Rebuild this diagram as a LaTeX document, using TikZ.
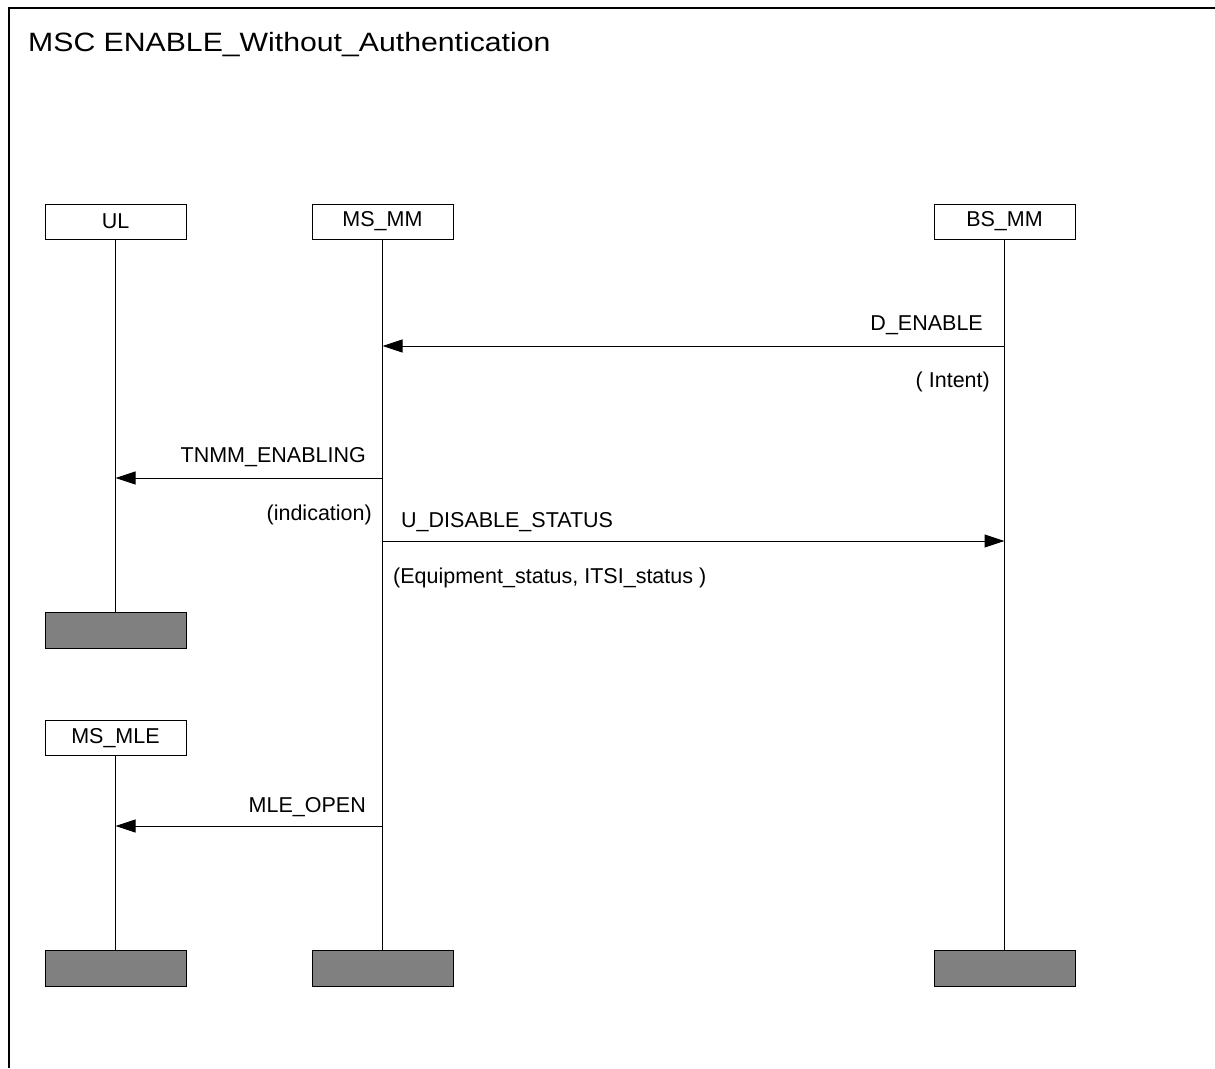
\documentclass[tikz,border=0pt]{standalone}
\usepackage{fontspec}
\setmainfont{Liberation Sans}
\usepackage{graphicx}
\usetikzlibrary{positioning,arrows.meta}

\begin{document}
\begin{tikzpicture}[x=1pt,y=-1pt,
  inst/.style={draw,line width=1pt,minimum width=141pt,minimum height=35pt,inner sep=0pt,font=\fontsize{21.5}{24}\selectfont},
  stopbox/.style={draw,line width=1pt,fill=gray,minimum width=141pt,minimum height=36pt,inner sep=0pt},
  life/.style={line width=1pt},
  msg/.style={-{Triangle[length=20pt,width=13pt]},line width=1pt},
  lbl/.style={inner sep=0pt,font=\fontsize{21.5}{24}\selectfont}]
  \useasboundingbox (0,0) rectangle (1215,1068);
  \draw[line width=1.5pt] (9,1068) -- (9,8) -- (1215,8);
  \node[anchor=base west,inner sep=0pt,font=\fontsize{26.5}{30}\selectfont] (title) at (28,51)
    {\scalebox{1.14}[1]{MSC ENABLE\_Without\_Authentication}};
  % instances
  \node[inst] (ul) at (115.5,221.5) {UL};
  \node[inst] (msmm) at (382.5,221.5) {MS\_MM};
  \node[inst] (bsmm) at (1004.5,221.5) {BS\_MM};
  \node[stopbox] (ulend) at (115.5,630) {};
  \node[inst] (msmle) at (115.5,738) {MS\_MLE};
  \node[stopbox] (msmleend) at (115.5,968) {};
  \node[stopbox] (msmmend) at (382.5,968) {};
  \node[stopbox] (bsmmend) at (1004.5,968) {};
  \path[life] (ul) edge (ulend) (msmle) edge (msmleend)
    (msmm) edge (msmmend) (bsmm) edge (bsmmend);
  % message points
  \coordinate (bs1) at (1004.5,346);
  \coordinate (ms1) at (382.5,346);
  \coordinate (ms2) at (382.5,478);
  \coordinate (ul2) at (115.5,478);
  \coordinate (ms3) at (382.5,541);
  \coordinate (bs3) at (1004.5,541);
  \coordinate (ms4) at (382.5,826);
  \coordinate (mle4) at (115.5,826);
  \path[msg] (bs1) edge (ms1) (ms2) edge (ul2)
    (ms3) edge (bs3) (ms4) edge (mle4);
  % labels
  \node[lbl,anchor=base east] (l1) at (983,330) {D\_ENABLE};
  \node[lbl,anchor=base east] (p1) at (990,387) {( Intent)};
  \node[lbl,anchor=base east] (l2) at (366,462) {TNMM\_ENABLING};
  \node[lbl,anchor=base east] (p2) at (372,520) {(indication)};
  \node[lbl,anchor=base west] (l3) at (401,527) {U\_DISABLE\_STATUS};
  \node[lbl,anchor=base west] (p3) at (393,583) {(Equipment\_status, ITSI\_status )};
  \node[lbl,anchor=base east] (l4) at (366,812) {MLE\_OPEN};
\end{tikzpicture}
\end{document}
